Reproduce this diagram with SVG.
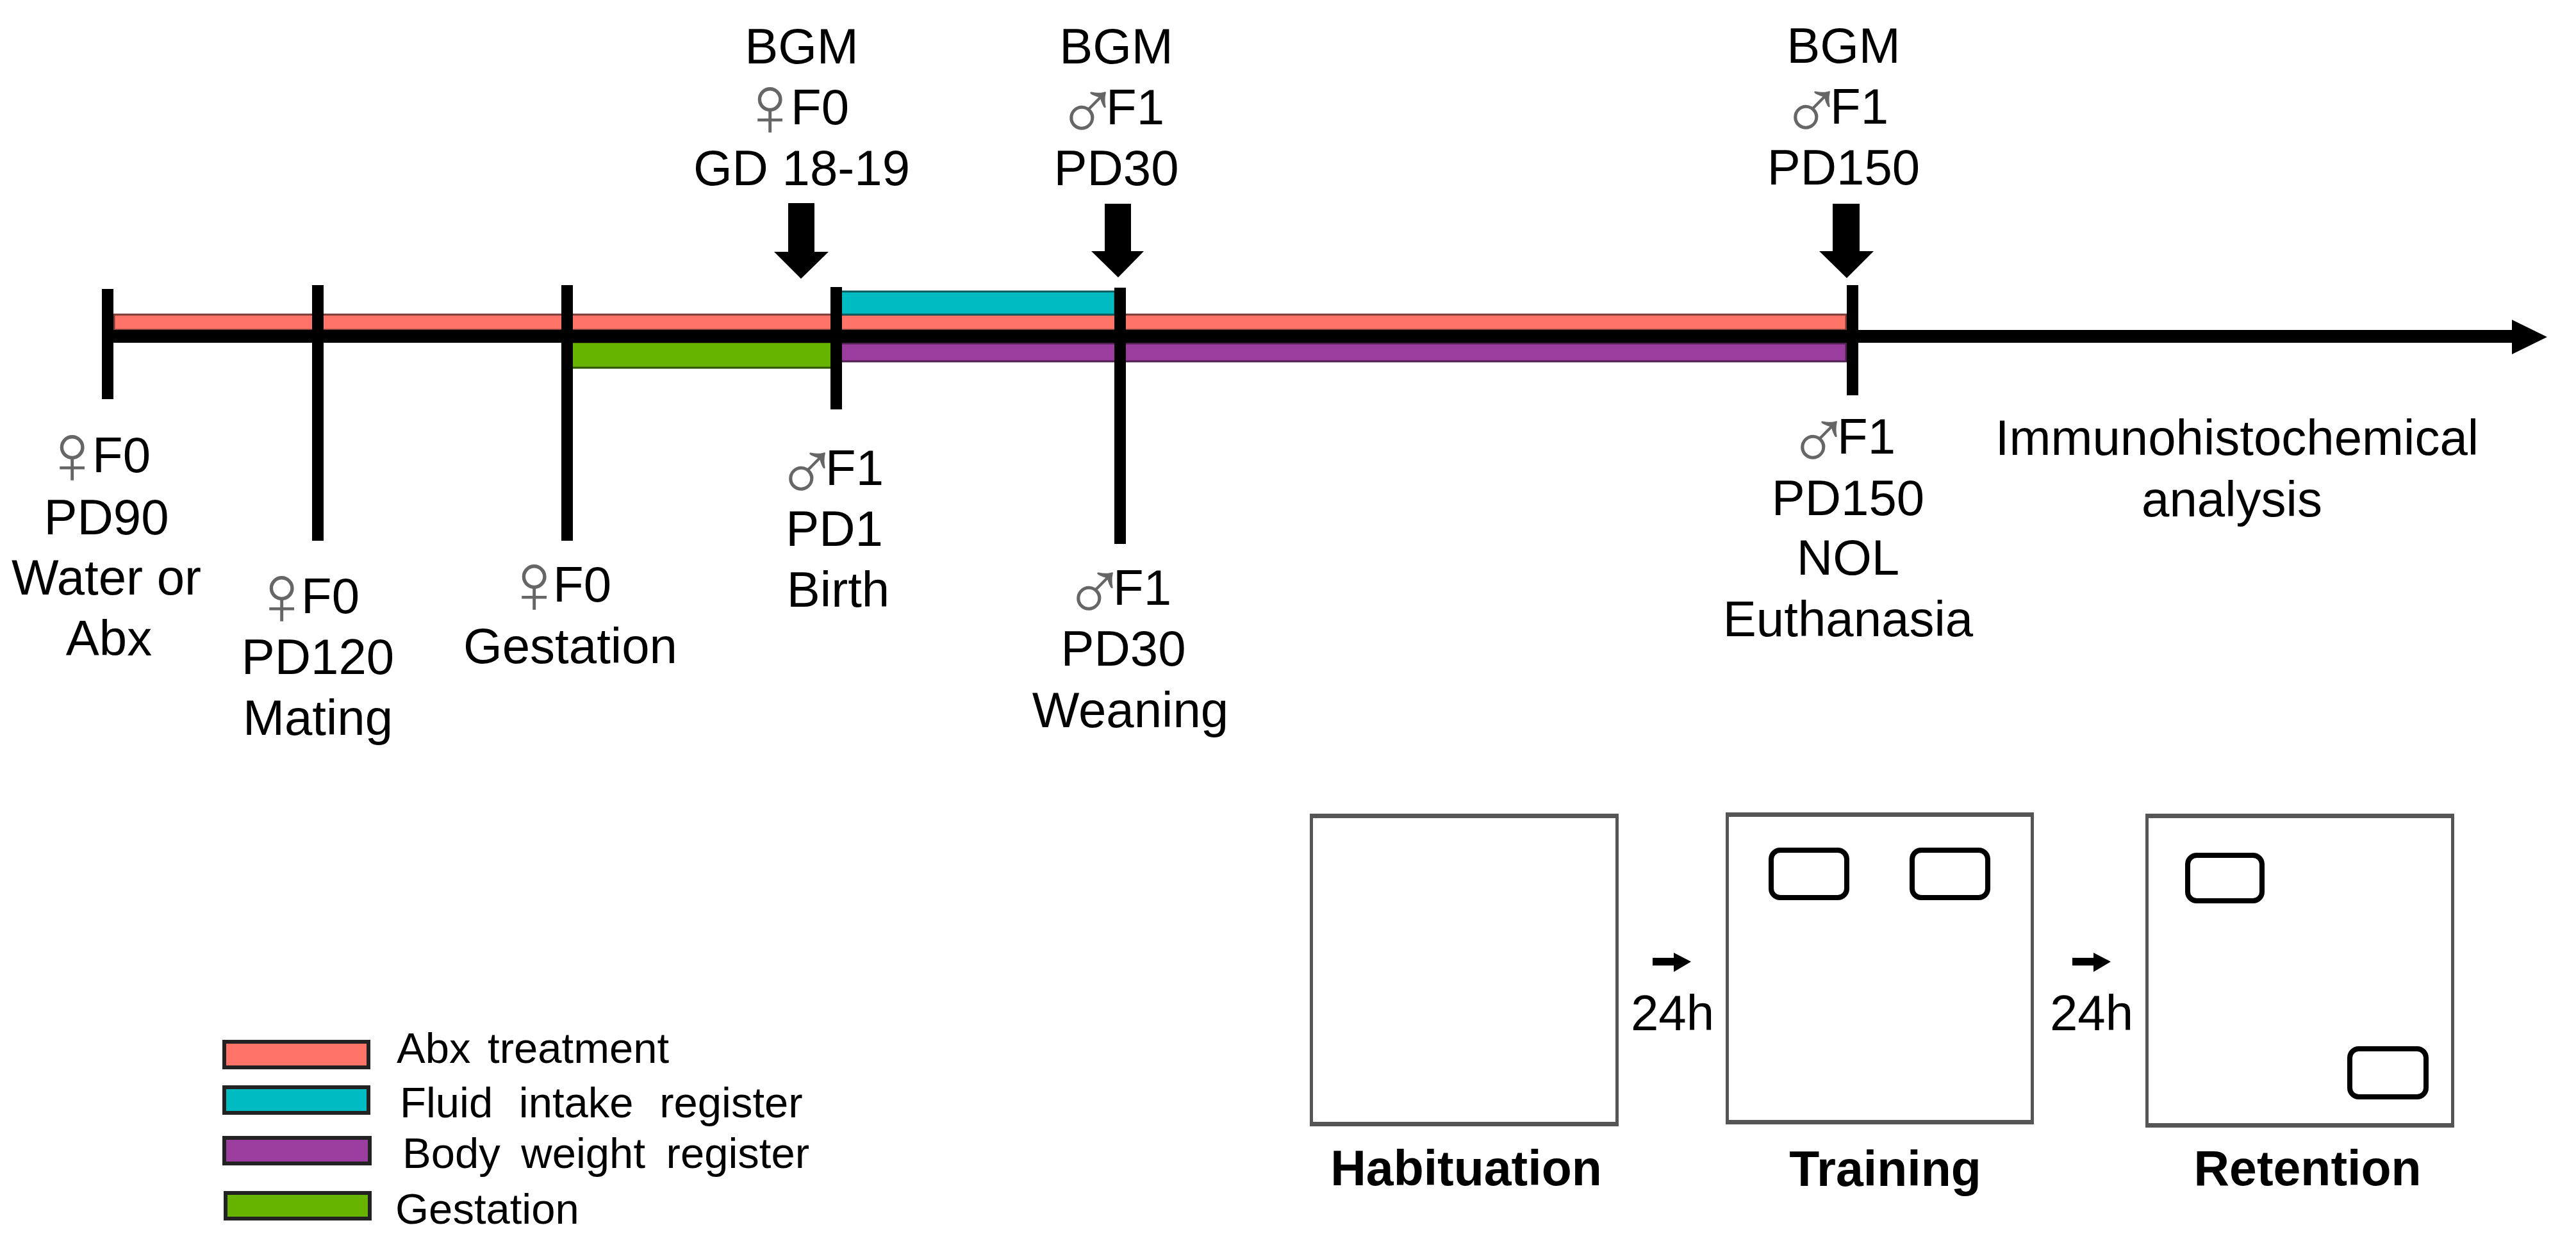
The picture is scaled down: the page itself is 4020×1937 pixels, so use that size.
<svg xmlns="http://www.w3.org/2000/svg" width="4020" height="1937" viewBox="0 0 4020 1937">
<style>
text{font-family:"Liberation Sans",Arial,sans-serif;font-size:78px;fill:#000}
.m{text-anchor:middle}
.f{fill:#666;font-size:135px}
.s{fill:#666;font-size:135px}
.b{font-weight:bold;font-size:77px;text-anchor:middle}
.l{font-size:67px}
.tick{fill:#000}
.bar{stroke-width:3}
.red{fill:#FF7369;stroke:#7a3a35}
.teal{fill:#00BBC2;stroke:#0b5a5e}
.pur{fill:#9B3D9E;stroke:#4e1f50}
.grn{fill:#66B300;stroke:#2f5300}
.leg{stroke:#222;stroke-width:6}
.box{fill:#555;fill-rule:evenodd}
.obj{fill:#fff;stroke:#000;stroke-width:8}
</style>
<rect width="4020" height="1937" fill="#fff"/>
<g id="connectors">
<rect class="bar red" x="178" y="491" width="2703" height="24"/>
<rect class="bar teal" x="1312" y="455" width="428" height="36"/>
<rect class="bar pur" x="1312" y="536" width="1569" height="28"/>
<rect class="bar grn" x="888" y="534" width="410" height="40"/>
<path d="M168 515H3920V499L3975 526L3920 553V535H168Z"/>
<rect class="tick" x="159" y="451" width="18" height="172"/>
<rect class="tick" x="487" y="445" width="18" height="399"/>
<rect class="tick" x="876" y="445" width="18" height="399"/>
<rect class="tick" x="1296" y="448" width="18" height="191"/>
<rect class="tick" x="1739" y="449" width="18" height="400"/>
<rect class="tick" x="2882" y="445" width="18" height="172"/>
<path d="M1230 317H1271V393H1293L1250 435L1208 393H1230Z"/>
<path d="M1724 318H1765V392H1785L1745 433L1703 392H1724Z"/>
<path d="M2860 318H2902V392H2924L2882 434L2839 392H2860Z"/>
<path d="M2579 1495H2612V1487L2639 1501L2612 1517V1507H2579Z"/>
<path d="M3234 1495H3267V1487L3294 1501L3267 1517V1507H3234Z"/>
</g>
<g id="label-bgm-f0">
<text class="m" x="1251" y="99">BGM</text>
<text x="1151" y="194"><tspan class="f" dy="18">♀</tspan><tspan x="1234" y="194">F0</tspan></text>
<text class="m" x="1251" y="289">GD 18-19</text>
</g>
<g id="label-bgm-f1-pd30">
<text class="m" x="1742" y="99">BGM</text>
<text x="1647" y="194"><tspan class="s" dy="25">♂</tspan><tspan x="1726" y="194">F1</tspan></text>
<text class="m" x="1742" y="289">PD30</text>
</g>
<g id="label-bgm-f1-pd150">
<text class="m" x="2877" y="98">BGM</text>
<text x="2777" y="193"><tspan class="s" dy="25">♂</tspan><tspan x="2856" y="193">F1</tspan></text>
<text class="m" x="2877" y="288">PD150</text>
</g>
<g id="label-pd90">
<text x="62" y="737"><tspan class="f" dy="18">♀</tspan><tspan x="144" y="737">F0</tspan></text>
<text class="m" x="166" y="834">PD90</text>
<text class="m" x="166" y="928">Water or</text>
<text class="m" x="170" y="1023">Abx</text>
</g>
<g id="label-pd120">
<text x="389" y="957"><tspan class="f" dy="18">♀</tspan><tspan x="470" y="957">F0</tspan></text>
<text class="m" x="496" y="1052">PD120</text>
<text class="m" x="496" y="1147">Mating</text>
</g>
<g id="label-gestation">
<text x="783" y="939"><tspan class="f" dy="18">♀</tspan><tspan x="863" y="939">F0</tspan></text>
<text class="m" x="890" y="1035">Gestation</text>
</g>
<g id="label-birth">
<text x="1209" y="757"><tspan class="s" dy="25">♂</tspan><tspan x="1288" y="757">F1</tspan></text>
<text class="m" x="1302" y="852">PD1</text>
<text class="m" x="1308" y="947">Birth</text>
</g>
<g id="label-weaning">
<text x="1658" y="944"><tspan class="s" dy="25">♂</tspan><tspan x="1737" y="944">F1</tspan></text>
<text class="m" x="1753" y="1039">PD30</text>
<text class="m" x="1764" y="1135">Weaning</text>
</g>
<g id="label-euthanasia">
<text x="2788" y="708"><tspan class="s" dy="25">♂</tspan><tspan x="2867" y="708">F1</tspan></text>
<text class="m" x="2884" y="804">PD150</text>
<text class="m" x="2884" y="897">NOL</text>
<text class="m" x="2884" y="993">Euthanasia</text>
</g>
<g id="label-immuno">
<text class="m" x="3491" y="710">Immunohistochemical</text>
<text class="m" x="3483" y="806">analysis</text>
</g>
<g id="legend-abx"><rect class="leg red" x="350" y="1626" width="225" height="40"/><text class="l" x="619" y="1659" word-spacing="8">Abx treatment</text></g>
<g id="legend-fluid"><rect class="leg teal" x="350" y="1697" width="225" height="40"/><text class="l" x="624" y="1744" word-spacing="22">Fluid intake register</text></g>
<g id="legend-body"><rect class="leg pur" x="350" y="1776" width="227" height="40"/><text class="l" x="628" y="1823" word-spacing="14">Body weight register</text></g>
<g id="legend-gestation"><rect class="leg grn" x="352" y="1862" width="225" height="40"/><text class="l" x="617" y="1910">Gestation</text></g>
<g id="habituation">
<path class="box" d="M2044 1270H2526V1758H2044ZM2049 1277V1751H2521V1277Z"/>
<text class="b" x="2288" y="1850">Habituation</text>
</g>
<g id="training">
<path class="box" d="M2693 1268H3174V1755H2693ZM2698 1275V1748H3169V1275Z"/>
<rect class="obj" x="2764" y="1327" width="118" height="74" rx="14"/>
<rect class="obj" x="2984" y="1327" width="118" height="74" rx="14"/>
<text class="b" x="2942" y="1851">Training</text>
</g>
<g id="retention">
<path class="box" d="M3348 1270H3830V1760H3348ZM3353 1277V1753H3825V1277Z"/>
<rect class="obj" x="3414" y="1335" width="116" height="71" rx="14"/>
<rect class="obj" x="3667" y="1637" width="119" height="75" rx="14"/>
<text class="b" x="3601" y="1850">Retention</text>
</g>
<g id="delay-1"><text class="m" x="2610" y="1608">24h</text></g>
<g id="delay-2"><text class="m" x="3264" y="1608">24h</text></g>
</svg>
